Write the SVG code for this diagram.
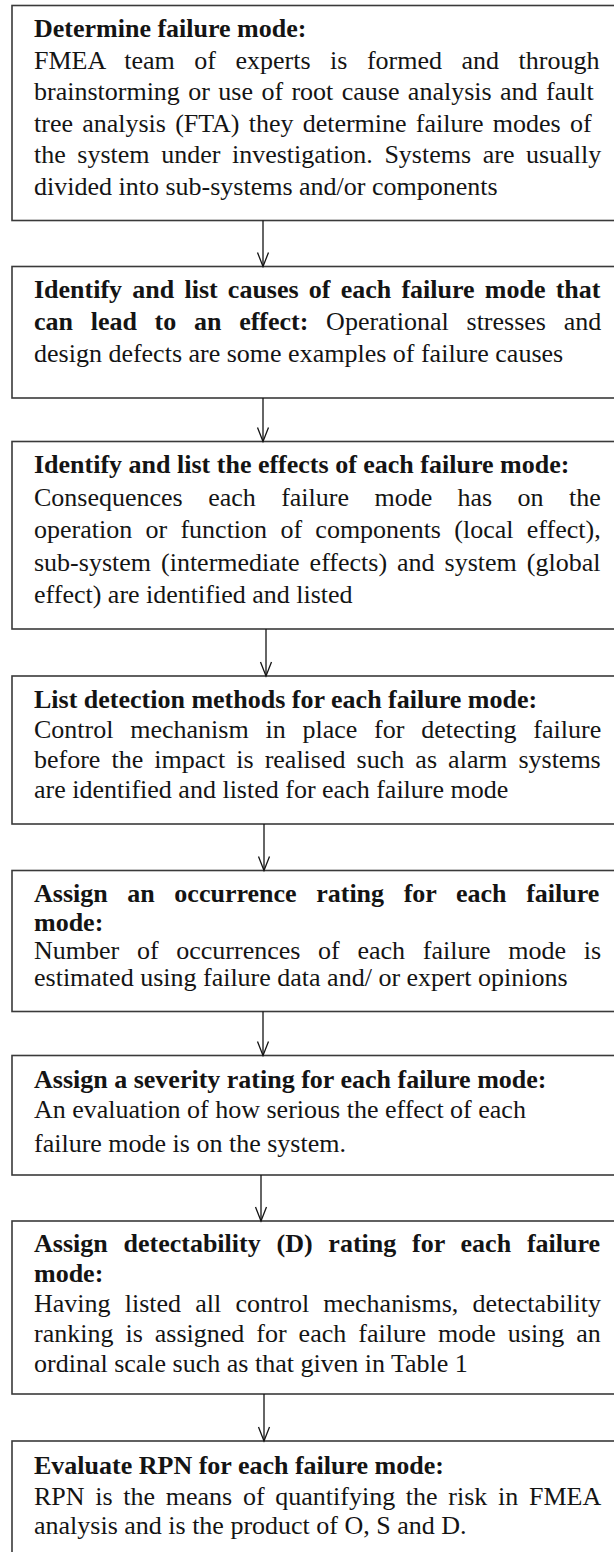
<svg xmlns="http://www.w3.org/2000/svg" width="614" height="1552" viewBox="0 0 614 1552">
  <style>
    .box { fill: #ffffff; stroke: #3a3a3a; stroke-width: 1.6; }
    .t { font-family: "Liberation Serif", "Times New Roman", serif; font-size: 26px; fill: #141414; }
    .b { font-weight: bold; }
    .conn line, .conn polyline { stroke: #141414; stroke-width: 1.3; fill: none; }
  </style>
  <rect x="0" y="0" width="614" height="1552" fill="#ffffff"/>

  <!-- Step 1 -->
  <g id="determine-failure-mode">
    <rect class="box" x="12" y="5.5" width="620" height="215"/>
    <text class="t b" x="34" y="37">Determine failure mode:</text>
    <text class="t" x="34" y="68.5" word-spacing="13">FMEA team of experts is formed and through</text>
    <text class="t" x="34" y="100" word-spacing="1.9">brainstorming or use of root cause analysis and fault</text>
    <text class="t" x="34" y="131.5" word-spacing="2.7">tree analysis (FTA) they determine failure modes of</text>
    <text class="t" x="34" y="163" word-spacing="5.1">the system under investigation. Systems are usually</text>
    <text class="t" x="34" y="194.5">divided into sub-systems and/or components</text>
  </g>

  <!-- Step 2 -->
  <g id="identify-causes">
    <rect class="box" x="12" y="266.5" width="620" height="131.5"/>
    <text class="t b" x="34" y="298" word-spacing="3.7">Identify and list causes of each failure mode that</text>
    <text class="t" x="34" y="330" word-spacing="11.2"><tspan class="b">can lead to an effect:</tspan> Operational stresses and</text>
    <text class="t" x="34" y="362">design defects are some examples of failure causes</text>
  </g>

  <!-- Step 3 -->
  <g id="identify-effects">
    <rect class="box" x="12" y="441.5" width="620" height="187.5"/>
    <text class="t b" x="34" y="473">Identify and list the effects of each failure mode:</text>
    <text class="t" x="34" y="505.5" word-spacing="18.9">Consequences each failure mode has on the</text>
    <text class="t" x="34" y="538" word-spacing="6.8">operation or function of components (local effect),</text>
    <text class="t" x="34" y="570.5" word-spacing="3.5">sub-system (intermediate effects) and system (global</text>
    <text class="t" x="34" y="603">effect) are identified and listed</text>
  </g>

  <!-- Step 4 -->
  <g id="detection-methods">
    <rect class="box" x="12" y="676" width="620" height="148"/>
    <text class="t b" x="34" y="707.5">List detection methods for each failure mode:</text>
    <text class="t" x="34" y="737.7" word-spacing="10.3">Control mechanism in place for detecting failure</text>
    <text class="t" x="34" y="767.8" word-spacing="4.6">before the impact is realised such as alarm systems</text>
    <text class="t" x="34" y="798">are identified and listed for each failure mode</text>
  </g>

  <!-- Step 5 -->
  <g id="occurrence-rating">
    <rect class="box" x="12" y="870.5" width="620" height="141"/>
    <text class="t b" x="34" y="902" word-spacing="13.1">Assign an occurrence rating for each failure</text>
    <text class="t b" x="34" y="931">mode:</text>
    <text class="t" x="34" y="959" word-spacing="11.2">Number of occurrences of each failure mode is</text>
    <text class="t" x="34" y="986">estimated using failure data and/ or expert opinions</text>
  </g>

  <!-- Step 6 -->
  <g id="severity-rating">
    <rect class="box" x="12" y="1055.5" width="620" height="119.5"/>
    <text class="t b" x="34" y="1088">Assign a severity rating for each failure mode:</text>
    <text class="t" x="34" y="1118">An evaluation of how serious the effect of each</text>
    <text class="t" x="34" y="1152">failure mode is on the system.</text>
  </g>

  <!-- Step 7 -->
  <g id="detectability-rating">
    <rect class="box" x="12" y="1221" width="620" height="173"/>
    <text class="t b" x="34" y="1252" word-spacing="9.3">Assign detectability (D) rating for each failure</text>
    <text class="t b" x="34" y="1282">mode:</text>
    <text class="t" x="34" y="1312" word-spacing="7.7">Having listed all control mechanisms, detectability</text>
    <text class="t" x="34" y="1342" word-spacing="5.5">ranking is assigned for each failure mode using an</text>
    <text class="t" x="34" y="1372">ordinal scale such as that given in Table 1</text>
  </g>

  <!-- Step 8 -->
  <g id="evaluate-rpn">
    <rect class="box" x="12" y="1441" width="620" height="130"/>
    <text class="t b" x="34" y="1474">Evaluate RPN for each failure mode:</text>
    <text class="t" x="34" y="1505" word-spacing="4.2">RPN is the means of quantifying the risk in FMEA</text>
    <text class="t" x="34" y="1534">analysis and is the product of O, S and D.</text>
  </g>

  <!-- Connectors: straight down with open V heads -->
  <g id="connectors" class="conn">
    <line x1="263" y1="220.5" x2="263" y2="266.5"/>
    <polyline points="257.5,252.5 263,266.5 268.5,252.5"/>
    <line x1="263" y1="398" x2="263" y2="441.5"/>
    <polyline points="257.5,427.5 263,441.5 268.5,427.5"/>
    <line x1="266" y1="629" x2="266" y2="676"/>
    <polyline points="260.5,662 266,676 271.5,662"/>
    <line x1="264" y1="824" x2="264" y2="870.5"/>
    <polyline points="258.5,856.5 264,870.5 269.5,856.5"/>
    <line x1="263" y1="1011.5" x2="263" y2="1055.5"/>
    <polyline points="257.5,1041.5 263,1055.5 268.5,1041.5"/>
    <line x1="261" y1="1175" x2="261" y2="1221"/>
    <polyline points="255.5,1207 261,1221 266.5,1207"/>
    <line x1="264" y1="1394" x2="264" y2="1441"/>
    <polyline points="258.5,1427 264,1441 269.5,1427"/>
  </g>
</svg>
